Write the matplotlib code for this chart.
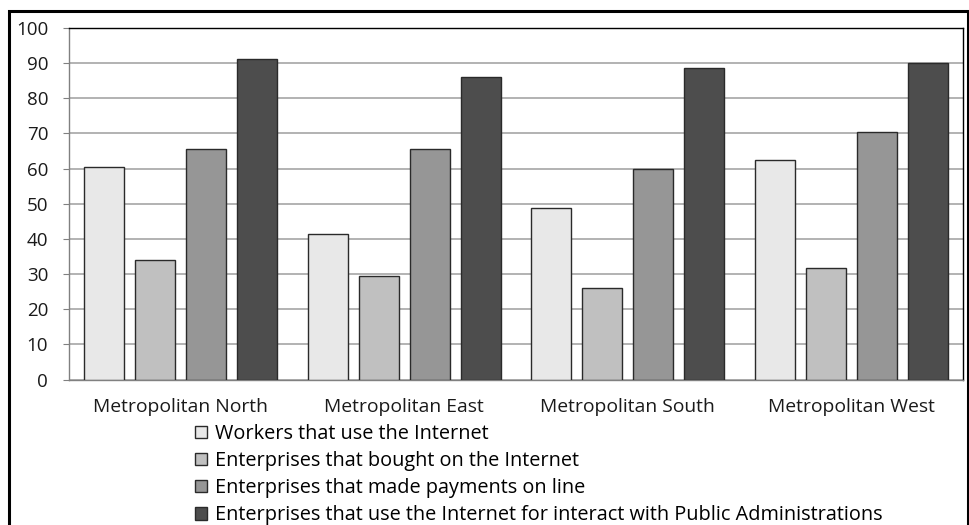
import matplotlib
matplotlib.use('Agg')
from matplotlib import pyplot as plt
from matplotlib.patches import Rectangle
import numpy as np

regions = ['Metropolitan North', 'Metropolitan East', 'Metropolitan South', 'Metropolitan West']
series_names = ['Workers that use the Internet',
                'Enterprises that bought on the Internet',
                'Enterprises that made payments on line',
                'Enterprises that use the Internet for interact with Public Administrations']
workers = [60.6, 41.3, 48.7, 62.4]
bought = [34.0, 29.4, 26.1, 31.6]
payments = [65.5, 65.5, 59.8, 70.3]
public_admin = [91.3, 86.2, 88.6, 90.1]
yticks = [0, 10, 20, 30, 40, 50, 60, 70, 80, 90, 100]

colors = ['#e8e8e8', '#c0c0c0', '#969696', '#4d4d4d']

plt.rcParams['font.family'] = ['Open Sans', 'DejaVu Sans']

fig = plt.figure(figsize=(9.7, 5.25), dpi=100)
ax = fig.add_axes([69 / 970, 1 - 379.6 / 525, (963 - 69) / 970, (379.6 - 28) / 525])

x = np.arange(len(regions))
w = 0.18
step = 0.228
for i, vals in enumerate([workers, bought, payments, public_admin]):
    ax.bar(x + (i - 1.5) * step, vals, width=w, color=colors[i],
           edgecolor='#2a2a2a', linewidth=1.0, label=series_names[i], zorder=3)

ax.set_xlim(-0.5, 3.5)
ax.set_ylim(0, 100)
ax.set_yticks(yticks)
ax.set_xticks(x)
ax.set_xticklabels(regions, fontsize=13.9, color='#1a1a1a')
ax.tick_params(axis='y', labelsize=13.5, colors='#1a1a1a', length=4, width=0.8, pad=11)
ax.tick_params(axis='x', length=0, pad=13)
ax.yaxis.grid(True, color='#a6a6a6', linewidth=1.2, zorder=0)
ax.set_axisbelow(True)
for s in ['top', 'right']:
    ax.spines[s].set_color('black')
    ax.spines[s].set_linewidth(1.0)
for s in ['left', 'bottom']:
    ax.spines[s].set_color('#808080')
    ax.spines[s].set_linewidth(1.0)
ax.tick_params(axis='y', color='#808080')

fig.legend(loc='upper left', bbox_to_anchor=(195 / 970, 1 - 424 / 525),
           frameon=False, fontsize=14.3, handlelength=0.62, handleheight=0.58,
           handletextpad=0.38, labelspacing=0.36, borderpad=0, borderaxespad=0)

# outer frame
fig.patches.append(Rectangle((9.5 / 970, -0.02), (968 - 9.5) / 970, 1 - 10.5 / 525 + 0.02,
                             transform=fig.transFigure, fill=False,
                             edgecolor='black', linewidth=2.2))

fig.savefig('out.png', dpi=100)
